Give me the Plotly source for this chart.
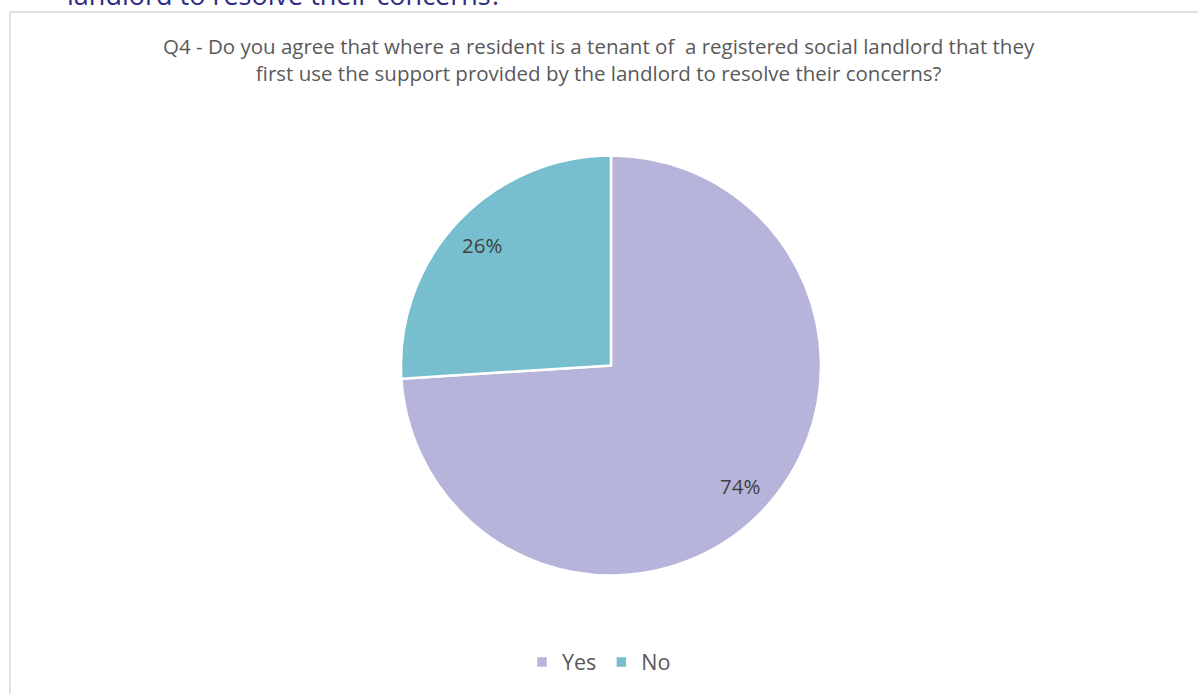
import math
import plotly.graph_objects as go

labels = ["Yes", "No"]
values = [74, 26]
colors = ["#B7B4DC", "#77BFCE"]

title_text = ("Q4 - Do you agree that where a resident is a tenant of  a registered social landlord that they<br>"
              "first use the support provided by the landlord to resolve their concerns?")
heading_text = "landlord to resolve their concerns?"

W, H = 1198, 694
FONT = "'Open Sans', Lato, sans-serif"

def px_x(x):
    return x / W

def px_y(y):
    return 1 - y / H

# pie geometry (pixels)
CX, CY, R = 611, 365.5, 210
LABEL_FRAC = 0.84

fig = go.Figure()
fig.add_trace(go.Pie(
    labels=labels,
    values=values,
    sort=False,
    direction="clockwise",
    rotation=0,
    marker=dict(colors=colors, line=dict(color="white", width=2.5)),
    textinfo="none",
    domain=dict(x=[px_x(CX - R), px_x(CX + R)], y=[px_y(CY + R), px_y(CY - R)]),
    hoverinfo="label+percent",
))

# percentage labels placed along each slice's bisector (Excel best-fit style)
annotations = []
total = sum(values)
start = 0.0
for v in values:
    mid = (start + v / 2) / total * 2 * math.pi
    start += v
    lx = CX + LABEL_FRAC * R * math.sin(mid)
    ly = CY - LABEL_FRAC * R * math.cos(mid)
    annotations.append(dict(
        text=f"{round(100 * v / total)}%", xref="paper", yref="paper",
        x=px_x(lx), y=px_y(ly), xanchor="center", yanchor="middle",
        showarrow=False,
        font=dict(family=FONT, size=20.5, color="#404040"),
    ))

annotations += [
    dict(text=title_text, xref="paper", yref="paper",
         x=px_x(599), y=px_y(60), xanchor="center", yanchor="middle",
         showarrow=False, align="center",
         font=dict(family=FONT, size=20.5, color="#595959")),
    dict(text=heading_text, xref="paper", yref="paper",
         x=px_x(284), y=px_y(-6), xanchor="center", yanchor="middle",
         showarrow=False,
         font=dict(family=FONT, size=27, color="#2E2C84")),
]

fig.update_layout(
    width=W, height=H,
    margin=dict(l=0, r=0, t=0, b=0),
    paper_bgcolor="white",
    plot_bgcolor="white",
    showlegend=True,
    legend=dict(
        orientation="h",
        x=0.5, xanchor="center",
        y=px_y(662), yanchor="middle",
        font=dict(family=FONT, size=21.5, color="#595959"),
        itemwidth=30,
    ),
    shapes=[dict(
        type="rect", xref="paper", yref="paper",
        x0=px_x(10), x1=1.02, y0=-0.02, y1=px_y(12),
        line=dict(color="#D9D9D9", width=1.5),
        fillcolor="rgba(0,0,0,0)", layer="below",
    )],
    annotations=annotations,
)

fig.write_html("out.html")
